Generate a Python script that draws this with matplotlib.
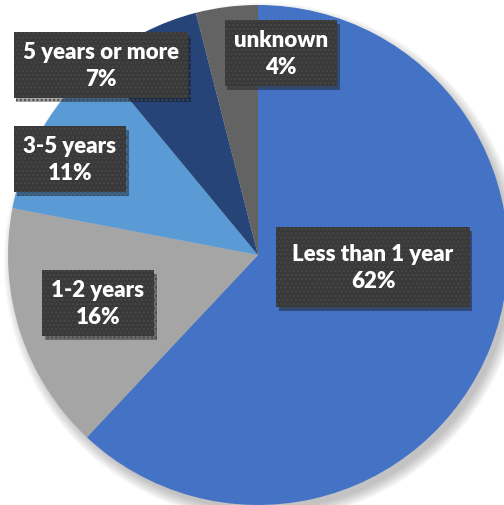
import matplotlib
matplotlib.use("Agg")
import matplotlib.pyplot as plt
import matplotlib.patheffects as pe
from matplotlib.patches import Circle

# data
categories = ["Less than 1 year", "1-2 years", "3-5 years", "5 years or more", "unknown"]
shares = [62, 16, 11, 7, 4]
colors = ["#4472C4", "#A5A5A5", "#5B9BD5", "#264478", "#636363"]

# label box centres (pixels from top-left) and padding
label_pos = [(373, 268), (98, 304), (70, 160), (101, 66), (281, 54)]
label_pad = [0.72, 0.42, 0.42, 0.42, 0.42]

W, H = 504, 506
cx, cy, r = 258, H - 256, 250
fig = plt.figure(figsize=(W / 100, H / 100), dpi=100)
ax = fig.add_axes([0, 0, 1, 1])

# soft shadow under the pie
for i in range(8):
    ax.add_patch(Circle((cx + 5, cy - 7), r + 9 - i * 1.5, facecolor="k",
                        edgecolor="none", alpha=0.03, zorder=0))

wedges, _ = ax.pie(shares, colors=colors, startangle=90, counterclock=False,
                   center=(cx, cy), radius=r, frame=True,
                   wedgeprops=dict(linewidth=0, zorder=1))
ax.set_xlim(0, W)
ax.set_ylim(0, H)
ax.set_aspect("equal")
ax.axis("off")

for name, v, (x, y), p in zip(categories, shares, label_pos, label_pad):
    t = ax.text(x, H - y, f"{name}\n{v}%", ha="center", va="center",
                color="white", fontsize=16, fontweight="heavy", family="Lato",
                linespacing=1.35, zorder=5,
                bbox=dict(boxstyle=f"square,pad={p}", facecolor="#393939",
                          edgecolor="#474747", hatch="....", linewidth=0))
    t.get_bbox_patch().set_path_effects([
        pe.SimplePatchShadow(offset=(2, -3), shadow_rgbFace="k", alpha=0.35),
        pe.Normal()])

fig.savefig("out.png", dpi=100)
